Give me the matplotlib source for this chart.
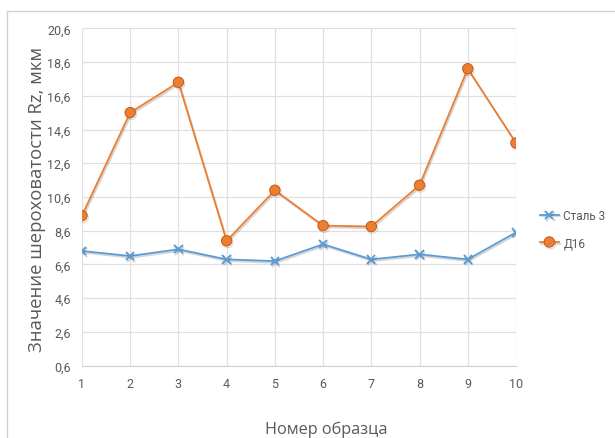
import matplotlib.pyplot as plt
import matplotlib.patheffects as pe
from matplotlib.patches import Rectangle

samples = [1, 2, 3, 4, 5, 6, 7, 8, 9, 10]
steel3 = [7.4, 7.1, 7.5, 6.9, 6.8, 7.8, 6.9, 7.2, 6.9, 8.5]
d16 = [9.5, 15.6, 17.4, 8.0, 11.0, 8.9, 8.85, 11.3, 18.2, 13.8]
y_ticks = [0.6, 2.6, 4.6, 6.6, 8.6, 10.6, 12.6, 14.6, 16.6, 18.6, 20.6]

tick_font = ['Liberation Sans Narrow', 'Roboto', 'DejaVu Sans']
title_font = 'Open Sans'

fig = plt.figure(figsize=(6.15, 4.39), dpi=100)
fig.patches.append(Rectangle((0.012, -0.1), 1.1, 1.073, transform=fig.transFigure,
                             fill=False, edgecolor='#d0d0d0', linewidth=1.0))

ax = fig.add_axes([0.1333, 0.1647, 0.7057, 0.7686])

shadow = [pe.SimpleLineShadow(offset=(0.8, -1.2), shadow_color='#555555', alpha=0.25),
          pe.Normal()]

ax.plot(samples, steel3, color='#5B9BD5', linewidth=1.3, marker='x',
        markersize=6, markeredgewidth=1.4, label='Сталь 3', path_effects=shadow)
ax.plot(samples, d16, color='#ED7D31', linewidth=1.3, marker='o',
        markersize=7.5, markerfacecolor='#ED7D31', markeredgecolor='#C55A11',
        markeredgewidth=0.7, label='Д16', path_effects=shadow)

ax.set_xlim(1, 10)
ax.set_ylim(0.6, 20.6)
ax.set_xticks(samples)
ax.set_yticks(y_ticks)
ax.set_yticklabels([f'{v:.1f}'.replace('.', ',') for v in y_ticks])
ax.grid(True, color='#e0e0e0', linewidth=0.9)
ax.set_axisbelow(True)
for side in ['top', 'right', 'left']:
    ax.spines[side].set_visible(False)
ax.spines['bottom'].set_color('#d0d0d0')
ax.tick_params(length=0, colors='#595959', labelsize=9, pad=8)
for lbl in ax.get_xticklabels() + ax.get_yticklabels():
    lbl.set_family(tick_font)

ax.set_ylabel('Значение шероховатости Rz, мкм', fontsize=13.3, color='#595959',
              family=title_font, va='center')
ax.yaxis.set_label_coords(-0.104, 0.497)
ax.set_xlabel('Номер образца', fontsize=11.7, color='#595959',
              family=title_font, va='center')
ax.xaxis.set_label_coords(0.562, -0.187)

leg = ax.legend(loc='center left', bbox_to_anchor=(1.055, 0.405), frameon=False,
                borderpad=0, borderaxespad=0, handlelength=1.6, handletextpad=0.4,
                labelspacing=1.2, prop={'family': tick_font, 'size': 8.5})
for t in leg.get_texts():
    t.set_color('#595959')

fig.savefig('out.png', dpi=100)
